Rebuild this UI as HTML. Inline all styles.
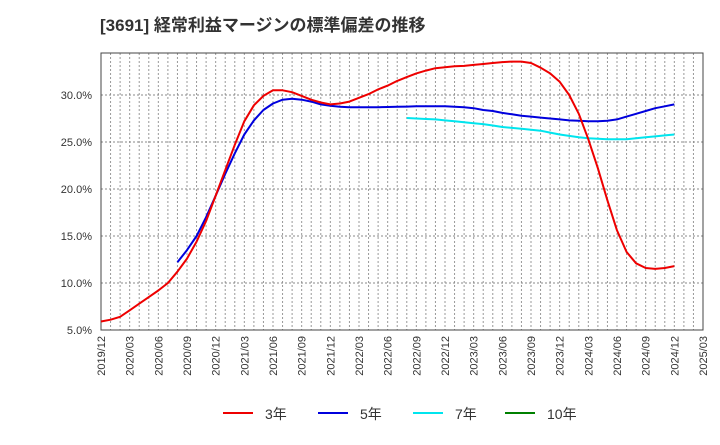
<!DOCTYPE html>
<html><head><meta charset="utf-8"><style>
body{margin:0;background:#fff;width:720px;height:440px;overflow:hidden}
svg{font-family:"Liberation Sans","Noto Sans CJK JP",sans-serif}
</style></head><body>
<svg id="chart" width="720" height="440"></svg>
<script>
const xLabels=["2019/12","2020/03","2020/06","2020/09","2020/12","2021/03","2021/06","2021/09","2021/12","2022/03","2022/06","2022/09","2022/12","2023/03","2023/06","2023/09","2023/12","2024/03","2024/06","2024/09","2024/12","2025/03"];
const yTicks=[5,10,15,20,25,30];
const red3=[5.9,6.1,6.4,7.1,7.8,8.5,9.2,10.0,11.2,12.6,14.4,16.6,19.3,22.0,24.7,27.2,28.9,29.9,30.5,30.5,30.3,29.9,29.5,29.2,29.0,29.1,29.3,29.7,30.1,30.6,31.0,31.5,31.9,32.3,32.6,32.85,32.95,33.05,33.1,33.2,33.3,33.4,33.5,33.55,33.55,33.4,32.9,32.3,31.4,30.0,28.0,25.3,22.2,18.8,15.6,13.3,12.1,11.6,11.5,11.6,11.8];
const blue5Start=8;
const blue5=[12.2,13.5,15.0,17.0,19.3,21.6,23.8,25.8,27.3,28.4,29.1,29.5,29.6,29.5,29.3,29.0,28.85,28.75,28.7,28.7,28.7,28.7,28.72,28.75,28.77,28.8,28.8,28.8,28.8,28.75,28.7,28.6,28.4,28.3,28.1,27.95,27.8,27.7,27.6,27.5,27.4,27.3,27.25,27.2,27.2,27.25,27.4,27.7,28.0,28.3,28.6,28.8,29.0];
const cyan7Start=32;
const cyan7=[27.55,27.5,27.45,27.4,27.3,27.2,27.1,27.0,26.9,26.75,26.6,26.5,26.4,26.3,26.2,26.0,25.8,25.65,25.5,25.4,25.35,25.3,25.3,25.3,25.4,25.5,25.6,25.7,25.8];
const green10=[];
const NS="http://www.w3.org/2000/svg";
const svg=document.getElementById('chart');
const L=101,R=703,T=53,B=330;
const xs=i=>L+i*(R-L)/63;
const ys=v=>B-(v-5)*9.4;
function mk(tag,attrs,parent){const e=document.createElementNS(NS,tag);for(const k in attrs)e.setAttribute(k,attrs[k]);(parent||svg).appendChild(e);return e;}
let t=mk('text',{x:100,y:31,'font-size':17,'font-weight':'bold',fill:'#333'});


t.textContent='[3691]  経常利益マージンの標準偏差の推移';
const grid=mk('g',{});


for(let i=1;i<63;i++){mk('line',{x1:xs(i),x2:xs(i),y1:T,y2:B,stroke:'#999','stroke-dasharray':'2,2','stroke-width':1},grid);}
yTicks.forEach(v=>{if(v>5)mk('line',{x1:L,x2:R,y1:ys(v),y2:ys(v),stroke:'#888','stroke-dasharray':'2,2','stroke-width':1},grid);
 const tx=mk('text',{x:92,y:ys(v)+4,'font-size':11,'text-anchor':'end',fill:'#333'});
 
 
 tx.textContent=v.toFixed(1)+'%';});
xLabels.forEach((s,k)=>{const x=xs(k*3);
 const tx=mk('text',{x:0,y:0,'font-size':11,'text-anchor':'end',fill:'#333',transform:`translate(${x+4},${B+6}) rotate(-90)`});
 
 
 tx.textContent=s;});
const frame=mk('rect',{x:L,y:T,width:R-L,height:B-T,fill:'none',stroke:'#444','stroke-width':1});


function line(arr,start,color,name){if(!arr.length)return;
 const p=arr.map((v,i)=>xs(start+i).toFixed(1)+','+ys(v).toFixed(1)).join(' ');
 const pl=mk('polyline',{points:p,fill:'none',stroke:color,'stroke-width':2,'stroke-linejoin':'round'});
 
 }
line(cyan7,cyan7Start,'#00e5ee','series-7y');
line(blue5,blue5Start,'#0000dd','series-5y');
line(red3,0,'#ee0000','series-3y');
line(green10,0,'#008000','series-10y');
const leg=[['3年','#ee0000',223],['5年','#0000dd',318],['7年','#00e5ee',413],['10年','#008000',505]];
leg.forEach(([n,c,x])=>{const g=mk('g',{});
 
 
 mk('line',{x1:x,x2:x+30,y1:413,y2:413,stroke:c,'stroke-width':2},g);
 const tx=mk('text',{x:x+42,y:419,'font-size':14,fill:'#333'},g);tx.textContent=n;});
</script>
</body></html>
